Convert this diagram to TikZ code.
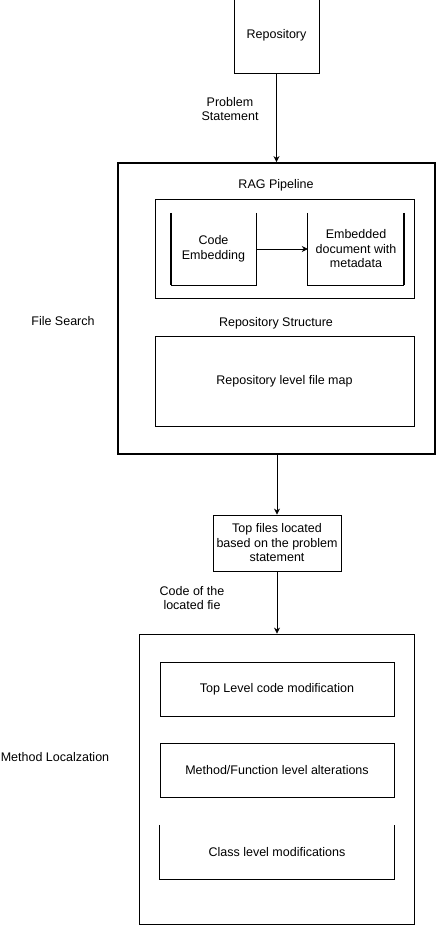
\documentclass[tikz,border=0pt]{standalone}
\usepackage{fontspec}
\setmainfont{Liberation Sans}
\usetikzlibrary{arrows.meta}

\tikzset{
    box/.style={draw, line width=0.8pt, align=center, inner sep=0pt},
    label/.style={align=center, inner sep=0pt},
    flow/.style={line width=0.8pt, -{Stealth[length=6pt,width=6pt]}}
}

\begin{document}
\begin{tikzpicture}[x=1pt, y=-1pt, font=\fontsize{12.5}{14.5}\selectfont]

    % --- Canvas ---
    \useasboundingbox (0,0) rectangle (436,926);

    % --- Top: repository ---
    \node[box, minimum width=85pt, minimum height=76pt] (repo) at (276.5,35) {Repository};
    \node[label] (probl) at (230,109) {Problem\\Statement};

    % --- File search block ---
    \node[draw, line width=1.8pt, minimum width=317pt, minimum height=291pt] (fsearch) at (276.5,308.5) {};
    \node[label] (fslbl) at (63,321) {File Search};

    % RAG pipeline
    \node[label] (raglbl) at (276,185) {RAG Pipeline};
    \node[box, minimum width=259pt, minimum height=99pt] (rag) at (284.5,248.5) {};

    % open-top stores inside the pipeline
    \node[label, minimum width=85pt, minimum height=72pt] (codeemb) at (213.5,249) {Code\\Embedding};
    \node[label, minimum width=96pt, minimum height=72pt] (embdoc) at (356,249) {Embedded\\document with\\metadata};
    \draw[line width=0.8pt] (codeemb.north east) -- (codeemb.south east) -- (codeemb.south west);
    \draw[line width=1.8pt] (codeemb.north west) -- (codeemb.south west);
    \draw[line width=0.8pt] (embdoc.north west) -- (embdoc.south west) -- (embdoc.south east);
    \draw[line width=1.8pt] (embdoc.north east) -- (embdoc.south east);
    \draw[flow] (codeemb.east) -- (embdoc.west);

    % Repository structure
    \node[label] (structlbl) at (276,323) {Repository Structure};
    \node[box, minimum width=259pt, minimum height=90pt] (filemap) at (284.5,381) {Repository level file map};

    % --- Located files ---
    \node[box, minimum width=128pt, minimum height=56pt] (topfiles) at (277,543) {Top files located\\based on the problem\\statement};
    \node[label] (codelbl) at (192,598) {Code of the\\located fie};

    % --- Method localization block ---
    \node[box, minimum width=275pt, minimum height=290pt] (methloc) at (276.5,779) {};
    \node[label] (mllbl) at (55,757) {Method Localzation};

    \node[box, minimum width=234pt, minimum height=54pt] (toplevel) at (277,689) {Top Level code modification};
    \node[box, minimum width=234pt, minimum height=54pt] (methfunc) at (277,770) {Method/Function level alterations};
    \node[label, minimum width=234pt, minimum height=54pt] (classlvl) at (277,852) {Class level modifications};
    \draw[line width=0.8pt] (classlvl.north west) -- (classlvl.south west) -- (classlvl.south east) -- (classlvl.north east);

    % --- Connectors ---
    \draw[flow] (repo.south) -- (repo.south |- fsearch.north);
    \draw[flow] (topfiles.north |- fsearch.south) -- (topfiles.north);
    \draw[flow] (topfiles.south) -- (topfiles.south |- methloc.north);

\end{tikzpicture}
\end{document}
